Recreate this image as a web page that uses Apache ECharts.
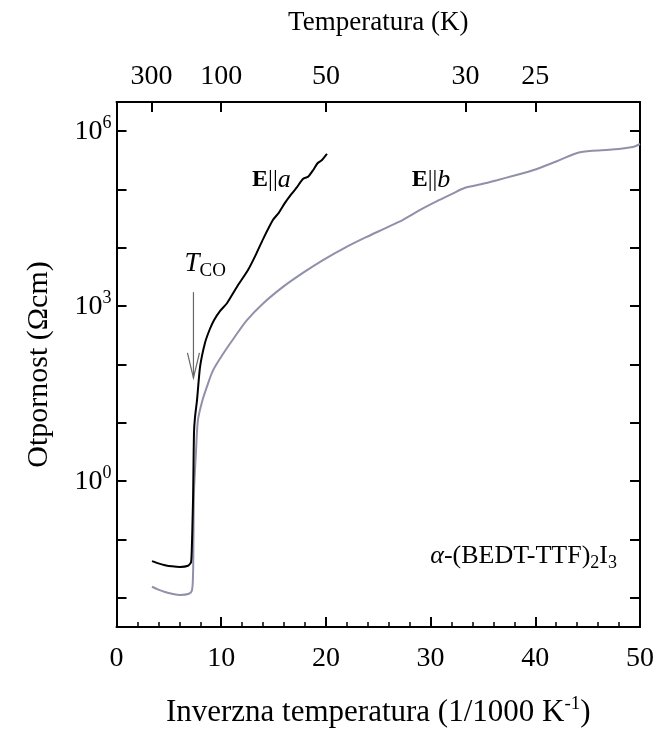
<!DOCTYPE html>
<html>
<head>
<meta charset="utf-8">
<script src="https://cdn.jsdelivr.net/npm/echarts@6/dist/echarts.min.js"></script>
<style>
html,body{margin:0;padding:0;background:#fff;}
#c{width:661px;height:736px;}
</style>
</head>
<body>
<div id="c"></div>
<script>
// ---- data (x: inverse temperature 1000/T in 1/K ; value: log10 of resistivity in Ohm cm)
const xA = [3.39, 4.0, 4.63, 5.3, 6.06, 6.83, 7.12, 7.21, 7.26, 7.31, 7.35, 7.40, 7.5, 7.69, 7.98, 8.45, 8.9, 9.31, 9.9, 10.55, 11.5, 12.56, 13.3, 14.0, 14.95, 15.5, 16.09, 16.7, 17.24, 17.8, 18.3, 18.77, 19.2, 19.6, 20.1];
const logRhoA = [-1.37, -1.41, -1.44, -1.46, -1.47, -1.45, -1.39, -1.05, -0.7, -0.32, 0.19, 0.83, 1.1, 1.39, 1.96, 2.37, 2.60, 2.76, 2.92, 3.05, 3.33, 3.62, 3.88, 4.15, 4.48, 4.60, 4.77, 4.92, 5.04, 5.18, 5.22, 5.33, 5.45, 5.50, 5.61];
const xB = [3.39, 4.0, 4.63, 5.3, 6.06, 6.92, 7.21, 7.31, 7.35, 7.40, 7.59, 7.78, 8.2, 8.64, 9.22, 10.17, 11.32, 12.46, 13.90, 15.90, 17.8, 19.72, 21.8, 23.93, 25.6, 27.36, 29.0, 30.61, 32.0, 33.29, 34.8, 36.34, 38.0, 39.78, 42.0, 44.27, 47.0, 49.33, 50.0];
const logRhoB = [-1.81, -1.86, -1.90, -1.93, -1.95, -1.93, -1.87, -1.6, -1.01, -0.20, 0.50, 1.05, 1.38, 1.62, 1.90, 2.18, 2.48, 2.76, 3.03, 3.33, 3.57, 3.79, 4.0, 4.19, 4.33, 4.48, 4.65, 4.80, 4.92, 5.03, 5.09, 5.16, 5.24, 5.33, 5.48, 5.64, 5.68, 5.73, 5.78];
// tick labels
const xTicks = [0, 10, 20, 30, 40, 50];
const topTempLabels = [300, 100, 50, 30, 25];
const yMajorExp = [0, 3, 6];
const yTickExp = [-2, -1, 0, 1, 2, 3, 4, 5, 6];

const FONT = '"Liberation Serif", "Times New Roman", serif';
const toPts = (xs, ls) => xs.map((x, i) => [x, Math.pow(10, ls[i])]);
const topTickPos = topTempLabels.map(t => 1000 / t);
const yTickVals = yTickExp.map(e => Math.pow(10, e));
const yLabelVals = yMajorExp.map(e => Math.pow(10, e));

const chart = echarts.init(document.getElementById('c'), null, {renderer: 'canvas'});
const axisLine = {show: true, onZero: false, lineStyle: {color: '#000', width: 2}};
const tickStyle = {color: '#000', width: 2};

const option = {
  animation: false,
  backgroundColor: '#fff',
  grid: {left: 116.5, right: 21, top: 102, bottom: 109, containLabel: false},
  xAxis: [{
    type: 'value', min: 0, max: 50, interval: 10, position: 'bottom',
    axisLine: axisLine,
    axisTick: {show: true, inside: true, length: 10, lineStyle: tickStyle},
    minorTick: {show: true, splitNumber: 5, length: 5, lineStyle: {color: '#000', width: 1.5}},
    splitLine: {show: false},
    axisLabel: {fontFamily: FONT, fontSize: 28, color: '#000', margin: 18,
      customValues: xTicks},
    name: 'Inverzna temperatura (1/1000 K{sup|-1})', nameLocation: 'middle', nameGap: 68,
    nameTextStyle: {fontFamily: FONT, fontSize: 31, color: '#000',
      rich: {sup: {fontFamily: FONT, fontSize: 19, color: '#000', padding: [0, 0, 16, 0]}}}
  }, {
    type: 'value', min: 0, max: 50, position: 'top',
    axisLine: axisLine,
    axisTick: {show: true, inside: true, length: 10, lineStyle: tickStyle, customValues: topTickPos},
    splitLine: {show: false},
    axisLabel: {fontFamily: FONT, fontSize: 28, color: '#000', margin: 11,
      customValues: topTickPos,
      formatter: v => String(Math.round(1000 / v))},
    name: 'Temperatura (K)', nameLocation: 'middle', nameGap: 66,
    nameTextStyle: {fontFamily: FONT, fontSize: 27, color: '#000'}
  }],
  yAxis: [{
    type: 'log', logBase: 10, min: Math.pow(10, -2.5), max: Math.pow(10, 6.5), position: 'left',
    axisLine: axisLine,
    axisTick: {show: true, inside: true, length: 10, lineStyle: tickStyle, customValues: yTickVals},
    minorTick: {show: false},
    splitLine: {show: false},
    axisLabel: {fontFamily: FONT, fontSize: 28, color: '#000', margin: 5,
      customValues: yLabelVals,
      formatter: v => '{b|10}{s|' + Math.round(Math.log10(v)) + '}',
      rich: {
        b: {fontFamily: FONT, fontSize: 28, color: '#000'},
        s: {fontFamily: FONT, fontSize: 18, color: '#000', padding: [0, 0, 15, 0]}
      }},
    name: 'Otpornost (Ωcm)', nameLocation: 'middle', nameGap: 62,
    nameTextStyle: {fontFamily: FONT, fontSize: 30, color: '#000'}
  }, {
    type: 'log', logBase: 10, min: Math.pow(10, -2.5), max: Math.pow(10, 6.5), position: 'right',
    axisLine: axisLine,
    axisTick: {show: true, inside: true, length: 10, lineStyle: tickStyle, customValues: yTickVals},
    minorTick: {show: false},
    splitLine: {show: false},
    axisLabel: {show: false}
  }],
  series: [{
    name: 'E||a', type: 'line', xAxisIndex: 0, yAxisIndex: 0,
    data: toPts(xA, logRhoA), showSymbol: false, smooth: 0.2,
    lineStyle: {color: '#000', width: 2}, z: 3
  }, {
    name: 'E||b', type: 'line', xAxisIndex: 0, yAxisIndex: 0,
    data: toPts(xB, logRhoB), showSymbol: false, smooth: 0.3,
    lineStyle: {color: '#9090aa', width: 2}, z: 2
  }]
};
chart.setOption(option);

// annotations anchored in data coordinates
const P = (x, l) => chart.convertToPixel({xAxisIndex: 0, yAxisIndex: 0}, [x, Math.pow(10, l)]);
const aLab = P(12.95, 5.16);
const bLab = P(28.2, 5.16);
const tcoLab = P(6.5, 3.72);
const arrTop = P(7.35, 3.24);
const arrTip = P(7.35, 1.77);
const formula = P(47.8, -1.29);
chart.setOption({
  graphic: [
    {type: 'text', x: aLab[0], y: aLab[1], style: {text: '{b|E}{n|||}{i|a}', verticalAlign: 'middle',
      rich: {b: {fontFamily: FONT, fontSize: 24, fontWeight: 'bold'}, n: {fontFamily: FONT, fontSize: 24}, i: {fontFamily: FONT, fontSize: 26, fontStyle: 'italic'}}}},
    {type: 'text', x: bLab[0], y: bLab[1], style: {text: '{b|E}{n|||}{i|b}', verticalAlign: 'middle',
      rich: {b: {fontFamily: FONT, fontSize: 24, fontWeight: 'bold'}, n: {fontFamily: FONT, fontSize: 24}, i: {fontFamily: FONT, fontSize: 26, fontStyle: 'italic'}}}},
    {type: 'text', x: tcoLab[0], y: tcoLab[1], style: {text: '{i|T}{s|CO}', verticalAlign: 'middle',
      rich: {i: {fontFamily: FONT, fontSize: 27, fontStyle: 'italic'}, s: {fontFamily: FONT, fontSize: 19, padding: [13, 0, 0, 0]}}}},
    {type: 'line', shape: {x1: arrTop[0], y1: arrTop[1], x2: arrTip[0], y2: arrTip[1]}, style: {stroke: '#666', lineWidth: 1.2}},
    {type: 'polyline', shape: {points: [[arrTip[0] - 6, arrTip[1] - 25], [arrTip[0], arrTip[1]], [arrTip[0] + 6, arrTip[1] - 25]]}, style: {stroke: '#666', lineWidth: 1.2, fill: null}},
    {type: 'text', x: formula[0], y: formula[1], style: {text: '{i|α}-(BEDT-TTF){s|2}I{s|3}', align: 'right', verticalAlign: 'middle',
      fontFamily: FONT, fontSize: 26, fill: '#000',
      rich: {i: {fontFamily: FONT, fontSize: 26, fontStyle: 'italic'}, s: {fontFamily: FONT, fontSize: 18, padding: [14, 0, 0, 0]}}}}
  ]
});
</script>
</body>
</html>
